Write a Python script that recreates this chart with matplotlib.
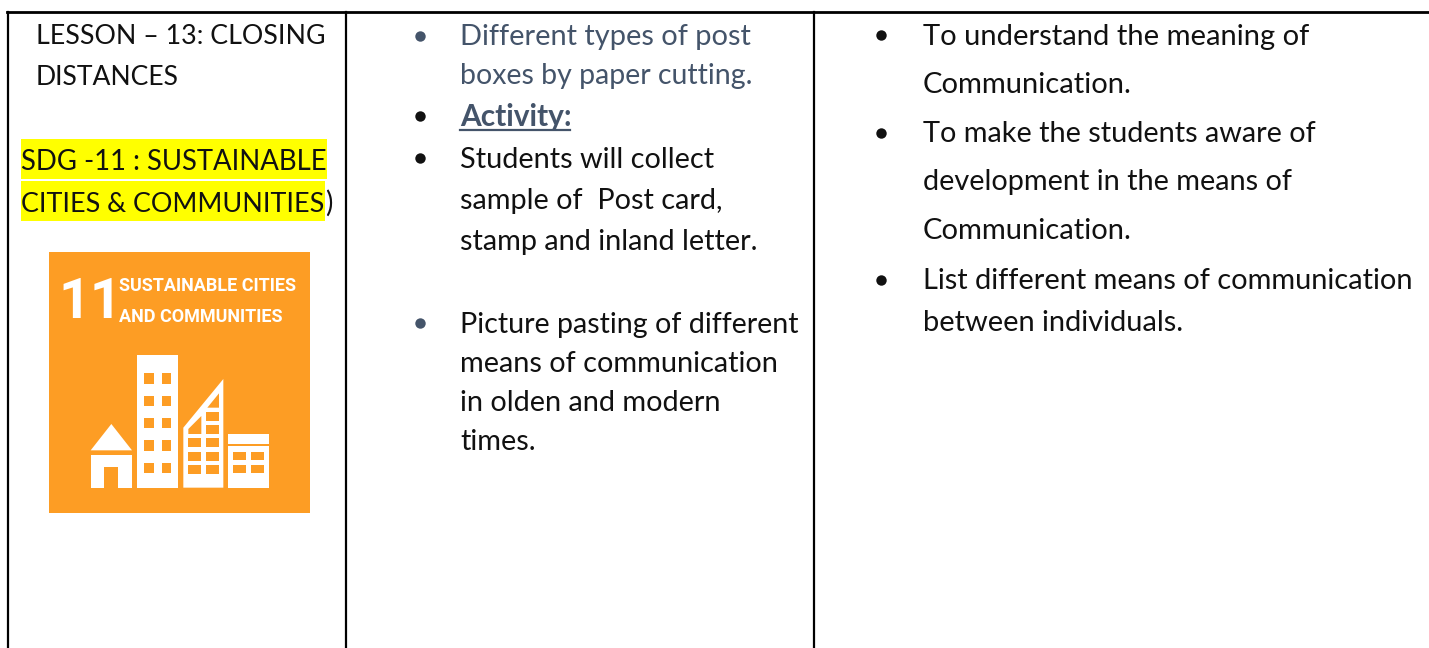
import matplotlib
matplotlib.use('Agg')
import matplotlib.pyplot as plt
from matplotlib.patches import Rectangle, Polygon

plt.rcParams['font.family'] = ['Lato', 'DejaVu Sans']

W, H = 1429, 648
BLACK = '#111111'
SLATE = '#44546A'
ORANGE = '#FD9D24'
ICON_FONT = ['Roboto', 'DejaVu Sans']

# text of each column: (text, x, baseline y, colour, size)
col1_lines = [
    ('LESSON – 13: CLOSING', 36, 44, BLACK, 19.3),
    ('DISTANCES', 36, 85, BLACK, 19.1),
    ('SDG -11 : SUSTAINABLE', 21, 170, BLACK, 19.8),
    ('CITIES & COMMUNITIES', 21, 212, BLACK, 19.4),
    (')', 325, 212, BLACK, 19.8),
]
col2_lines = [
    ('Different types of post', 460, 45, SLATE, 20.9),
    ('boxes by paper cutting.', 460, 84, SLATE, 20.5),
    ('Students will collect', 460, 168, BLACK, 20.8),
    ('sample of  Post card,', 460, 209, BLACK, 20.8),
    ('stamp and inland letter.', 460, 250, BLACK, 20.8),
    ('Picture pasting of different', 460, 333, BLACK, 20.6),
    ('means of communication', 460, 372, BLACK, 20.8),
    ('in olden and modern', 460, 411, BLACK, 20.8),
    ('times.', 460, 450, BLACK, 20.8),
]
col3_lines = [
    ('To understand the meaning of', 923, 45, BLACK, 21),
    ('Communication.', 923, 93, BLACK, 21),
    ('To make the students aware of', 923, 142, BLACK, 20.8),
    ('development in the means of', 923, 190, BLACK, 20.8),
    ('Communication.', 923, 239, BLACK, 21),
    ('List different means of communication', 923, 289, BLACK, 20.9),
    ('between individuals.', 923, 331, BLACK, 20.9),
]
bullets = [
    (420, 36, SLATE), (420, 116, BLACK), (420, 158, BLACK), (420, 323, SLATE),
    (881, 35, BLACK), (881, 133, BLACK), (881, 280, BLACK),
]

fig = plt.figure(figsize=(W / 100, H / 100), dpi=100)
ax = fig.add_axes([0, 0, 1, 1])
ax.set_xlim(0, W)
ax.set_ylim(H, 0)
ax.axis('off')

# table borders
ax.plot([7, W], [12, 12], color='black', lw=2.0)
for x in [8, 346, 814]:
    ax.plot([x, x], [12, H], color='black', lw=1.6)

# yellow highlight
ax.add_patch(Rectangle((21, 139), 306, 40, color='#FFFF00', lw=0))
ax.add_patch(Rectangle((21, 181), 304, 40, color='#FFFF00', lw=0))

for lines in [col1_lines, col2_lines, col3_lines]:
    for txt, x, y, c, s in lines:
        ax.text(x, y, txt, color=c, fontsize=s, va='baseline', ha='left')

# Activity heading, bold + underline
ax.text(460, 126, 'Activity:', color=SLATE, fontsize=21.5, fontweight='bold', va='baseline')
ax.plot([460, 570], [130, 130], color=SLATE, lw=1.6)

for x, y, c in bullets:
    ax.plot(x, y, 'o', color=c, ms=7.5, mew=0)

# SDG 11 icon, own axes in 0-261 px
icon = fig.add_axes([49 / W, 1 - 513 / H, 261 / W, 261 / H])
icon.set_xlim(0, 261)
icon.set_ylim(261, 0)
icon.axis('off')
icon.add_patch(Rectangle((0, 0), 261, 261, color=ORANGE, lw=0))


def ix(z):
    return (z + 120) / 3 - 49


def iy(z):
    return (z + 735) / 3 - 252


def block(x0, y0, x1, y1, c='white'):
    icon.add_patch(Rectangle((ix(x0), iy(y0)), (x1 - x0) / 3, (y1 - y0) / 3, color=c, lw=0))


icon.text(ix(54), iy(220), '11', color='white', fontsize=40, fontweight='bold',
          family=ICON_FONT, va='baseline')
icon.text(ix(236), iy(137), 'SUSTAINABLE CITIES', color='white', fontsize=13, fontweight='bold',
          family=ICON_FONT, va='baseline')
icon.text(ix(236), iy(232), 'AND COMMUNITIES', color='white', fontsize=13, fontweight='bold',
          family=ICON_FONT, va='baseline')

# house
icon.add_patch(Polygon([(ix(152), iy(616)), (ix(214), iy(537)), (ix(276), iy(616))], color='white', lw=0))
block(152, 630, 276, 728)
block(193, 667, 234, 728, ORANGE)
# tower
block(292, 330, 413, 728)
for wy in [385, 452, 519, 586, 653]:
    block(313, wy, 343, wy + 31, ORANGE)
    block(365, wy, 393, wy + 31, ORANGE)
# slanted building
icon.add_patch(Polygon([(ix(430), iy(728)), (ix(430), iy(548)), (ix(550), iy(402)), (ix(550), iy(728))],
                       color='white', lw=0))
icon.add_patch(Polygon([(ix(502), iy(488)), (ix(537), iy(445)), (ix(537), iy(488))], color=ORANGE, lw=0))
icon.add_patch(Polygon([(ix(445), iy(552)), (ix(484), iy(513)), (ix(484), iy(567)), (ix(445), iy(567))],
                       color=ORANGE, lw=0))
block(497, 500, 537, 527, ORANGE)
block(497, 540, 537, 567, ORANGE)
for wy in [580, 620, 660]:
    block(445, wy, 484, wy + 27, ORANGE)
    block(497, wy, 537, wy + 27, ORANGE)
# low building
block(563, 568, 687, 596)
block(563, 604, 687, 728)
for wy in [621, 660]:
    block(580, wy, 618, wy + 25, ORANGE)
    block(633, wy, 672, wy + 25, ORANGE)

fig.savefig('out.png', dpi=100)
